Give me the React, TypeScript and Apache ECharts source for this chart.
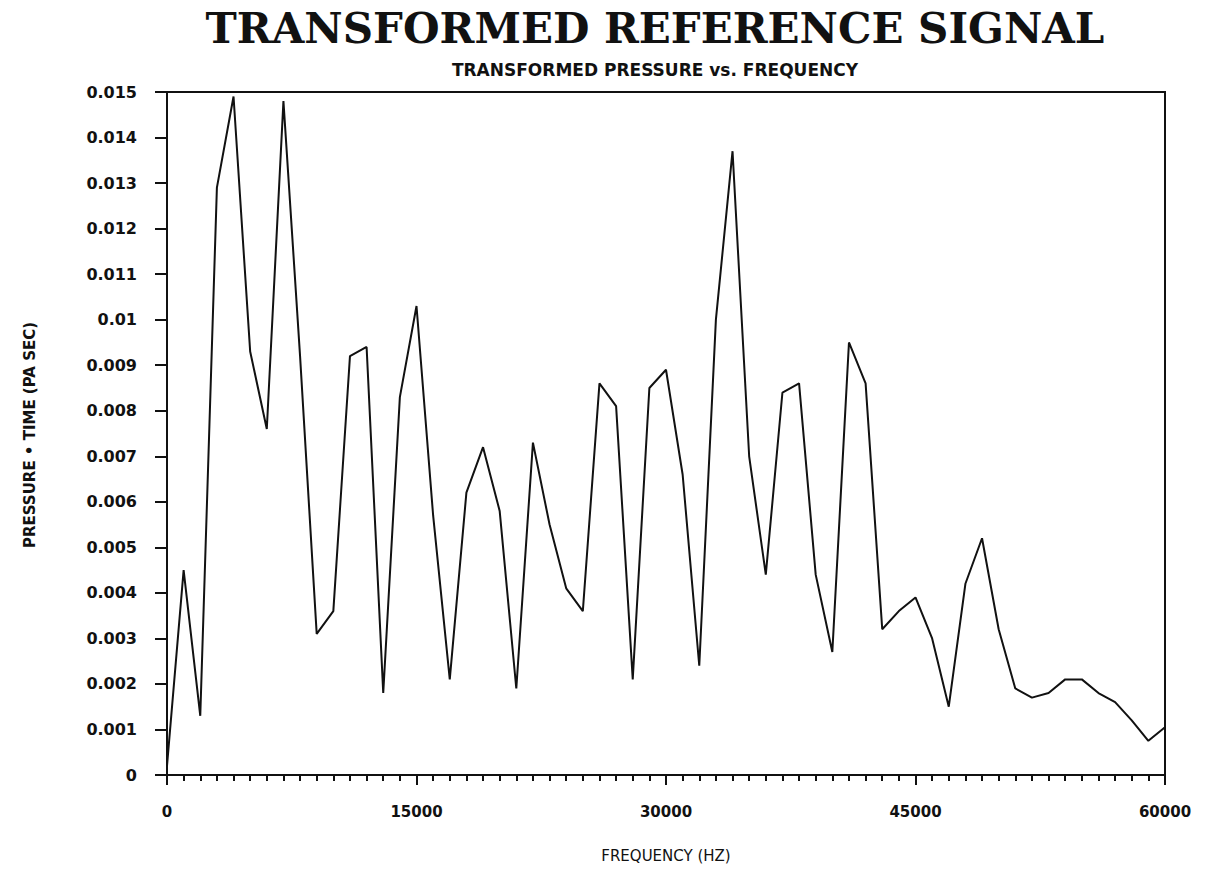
import React, { useEffect, useRef } from "react";
import * as echarts from "echarts";

const frequencies = [
  0, 1000, 2000, 3000, 4000, 5000, 6000, 7000, 8000, 9000,
  10000, 11000, 12000, 13000, 14000, 15000, 16000, 17000, 18000, 19000,
  20000, 21000, 22000, 23000, 24000, 25000, 26000, 27000, 28000, 29000,
  30000, 31000, 32000, 33000, 34000, 35000, 36000, 37000, 38000, 39000,
  40000, 41000, 42000, 43000, 44000, 45000, 46000, 47000, 48000, 49000,
  50000, 51000, 52000, 53000, 54000, 55000, 56000, 57000, 58000, 59000,
  60000,
];

const pressureTime = [
  0.0002, 0.0045, 0.0013, 0.0129, 0.0149, 0.0093, 0.0076, 0.0148, 0.0092, 0.0031,
  0.0036, 0.0092, 0.0094, 0.0018, 0.0083, 0.0103, 0.0057, 0.0021, 0.0062, 0.0072,
  0.0058, 0.0019, 0.0073, 0.0055, 0.0041, 0.0036, 0.0086, 0.0081, 0.0021, 0.0085,
  0.0089, 0.0066, 0.0024, 0.0100, 0.0137, 0.0070, 0.0044, 0.0084, 0.0086, 0.0044,
  0.0027, 0.0095, 0.0086, 0.0032, 0.0036, 0.0039, 0.0030, 0.0015, 0.0042, 0.0052,
  0.0032, 0.0019, 0.0017, 0.0018, 0.0021, 0.0021, 0.0018, 0.0016, 0.0012, 0.00075,
  0.00105,
];

const titleText = "TRANSFORMED REFERENCE SIGNAL";
const subtitleText = "TRANSFORMED PRESSURE vs. FREQUENCY";
const xAxisTitle = "FREQUENCY (HZ)";
const yAxisTitle = "PRESSURE \u2022 TIME (PA SEC)";

export default function App() {
  const ref = useRef<HTMLDivElement>(null);

  useEffect(() => {
    if (!ref.current) return;
    const chart = echarts.init(ref.current, undefined, { renderer: "svg" });
    const data = frequencies.map((f, i) => [f, pressureTime[i]]);
    chart.setOption({
      animation: false,
      backgroundColor: "#ffffff",
      title: [
        {
          text: titleText,
          left: 650,
          textAlign: "center",
          top: 2,
          textStyle: {
            fontFamily: "DejaVu Serif",
            fontWeight: "bold",
            fontSize: 42,
            color: "#111",
          },
        },
        {
          text: subtitleText,
          left: 650,
          textAlign: "center",
          top: 56,
          textStyle: {
            fontFamily: "DejaVu Sans",
            fontWeight: "bold",
            fontSize: 17,
            color: "#111",
          },
        },
      ],
      grid: {
        left: 167,
        top: 92,
        width: 998,
        height: 683,
        show: true,
        borderColor: "#111",
        borderWidth: 2,
        backgroundColor: "transparent",
      },
      xAxis: {
        type: "value",
        min: 0,
        max: 60000,
        interval: 15000,
        name: xAxisTitle,
        nameLocation: "middle",
        nameGap: 73,
        nameTextStyle: {
          fontFamily: "DejaVu Sans",
          fontSize: 15,
          color: "#111",
          verticalAlign: "top",
        },
        axisLine: { show: true, lineStyle: { color: "#111", width: 2 } },
        axisTick: { show: true, inside: false, length: 10, lineStyle: { color: "#111", width: 2 } },
        minorTick: { show: true, splitNumber: 15, length: 6, lineStyle: { color: "#111", width: 2 } },
        splitLine: { show: false },
        axisLabel: {
          margin: 29,
          fontFamily: "DejaVu Sans",
          fontWeight: "bold",
          fontSize: 15,
          color: "#111",
          formatter: (v: number) => String(v),
        },
      },
      yAxis: {
        type: "value",
        min: 0,
        max: 0.015,
        interval: 0.001,
        axisLine: { show: true, lineStyle: { color: "#111", width: 2 } },
        axisTick: { show: true, inside: false, length: 12, lineStyle: { color: "#111", width: 2 } },
        splitLine: { show: false },
        axisLabel: {
          margin: 30,
          fontFamily: "DejaVu Sans",
          fontWeight: "bold",
          fontSize: 16,
          color: "#111",
        },
      },
      graphic: [
        {
          type: "text",
          x: 30,
          y: 435,
          rotation: Math.PI / 2,
          style: {
            text: yAxisTitle,
            fontFamily: "DejaVu Sans",
            fontWeight: "bold",
            fontSize: 15,
            fill: "#111",
            align: "center",
            verticalAlign: "middle",
          },
        },
      ],
      series: [
        {
          type: "line",
          data,
          showSymbol: false,
          symbol: "none",
          lineStyle: { color: "#111", width: 2 },
        },
      ],
    });
    return () => chart.dispose();
  }, []);

  return (
    <div
      ref={ref}
      style={{ position: "fixed", left: 0, top: 0, width: 1211, height: 873, background: "#fff" }}
    />
  );
}
